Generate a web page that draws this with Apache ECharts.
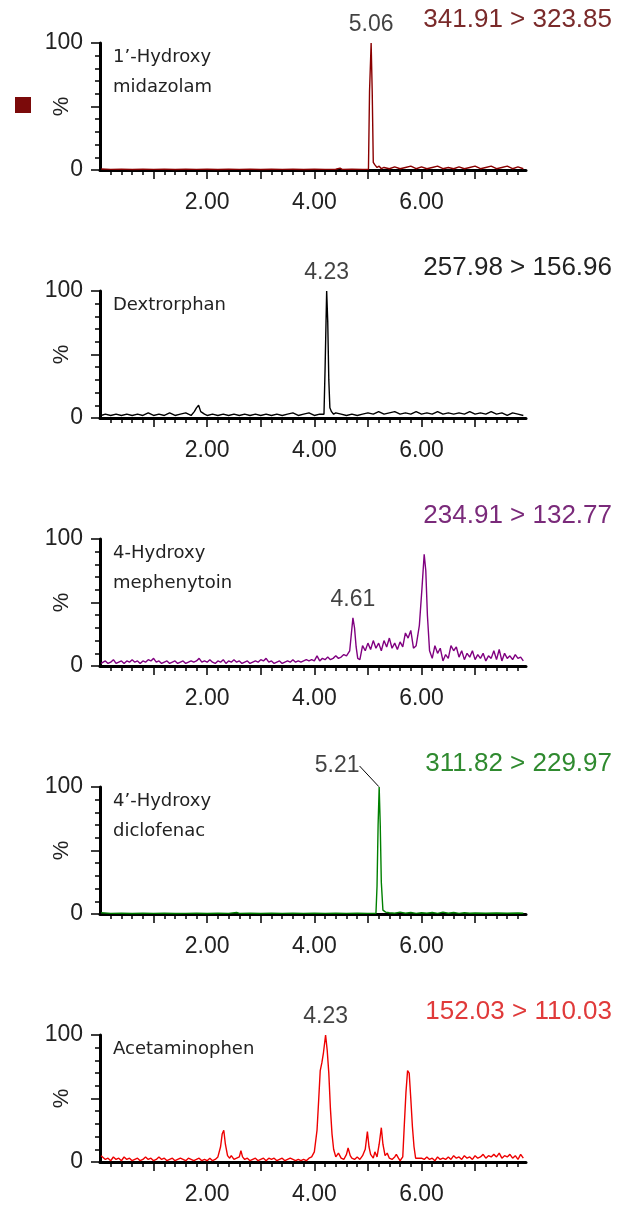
<!DOCTYPE html>
<html>
<head>
<meta charset="utf-8">
<script src="https://cdn.jsdelivr.net/npm/echarts@6/dist/echarts.min.js"></script>
<style>
html,body{margin:0;padding:0;background:#fff;}
#chart{width:617px;height:1210px;}
</style>
</head>
<body>
<div id="chart"></div>
<script>
// ---- data ----
const transitions = ['341.91 > 323.85', '257.98 > 156.96', '234.91 > 132.77', '311.82 > 229.97', '152.03 > 110.03'];
const compounds = ['1’-Hydroxy\nmidazolam', 'Dextrorphan', '4-Hydroxy\nmephenytoin', '4’-Hydroxy\ndiclofenac', 'Acetaminophen'];
const peakLabels = ['5.06', '4.23', '4.61', '5.21', '4.23'];
const peakPoints = [[5.06, 100], [4.23, 100], [4.72, 38], [5.21, 100], [4.21, 100]];
const xTickLabels = [2, 4, 6];
const xMajorTicks = [1, 2, 3, 4, 5, 6, 7];
const xMinorTicks = [0.2,0.4,0.6,0.8,1.2,1.4,1.6,1.8,2.2,2.4,2.6,2.8,3.2,3.4,3.6,3.8,4.2,4.4,4.6,4.8,5.2,5.4,5.6,5.8,6.2,6.4,6.6,6.8,7.2,7.4,7.6,7.8];

const midazolam = [
[0.02,0.8],[0.2,0.5],[0.4,0.7],[0.6,0.4],[0.8,0.6],[1.0,0.5],[1.2,0.7],[1.4,0.4],[1.6,0.6],[1.8,0.5],
[2.0,0.6],[2.2,0.4],[2.4,0.6],[2.6,0.5],[2.8,0.7],[3.0,0.4],[3.2,0.6],[3.4,0.5],[3.6,0.6],[3.8,0.4],
[4.0,0.6],[4.2,0.5],[4.4,0.6],[4.48,1.5],[4.52,0.5],[4.7,0.6],[4.9,0.5],[5.01,0.6],[5.03,62],[5.06,100],
[5.08,62],[5.10,6],[5.13,4],[5.17,2],[5.21,3],[5.25,1],[5.3,2],[5.4,1],[5.5,2.5],[5.6,1],[5.7,2],[5.8,3],
[5.9,1],[6.0,2.5],[6.1,1],[6.2,2],[6.3,3],[6.4,1],[6.5,2],[6.6,1],[6.7,2.5],[6.8,1],[6.9,2],[7.0,3],
[7.1,1],[7.2,2],[7.3,3],[7.4,1],[7.5,2],[7.6,3],[7.7,1],[7.8,2.5],[7.9,1]
];

const dextrorphan = [
[0.02,2],[0.1,3],[0.2,2],[0.3,3],[0.4,2],[0.5,3],[0.6,2],[0.7,3],[0.8,2],[0.9,4],[1.0,2],[1.1,3],[1.2,2],
[1.3,4],[1.4,2],[1.5,3],[1.6,4],[1.7,2],[1.76,5],[1.8,8],[1.84,10],[1.88,5],[1.95,3],[2.0,2],[2.1,3],
[2.2,2],[2.3,3],[2.4,2],[2.5,3],[2.6,2],[2.7,3],[2.8,2],[2.9,3],[3.0,2],[3.1,3],[3.2,2],[3.3,3],[3.4,2],
[3.5,3],[3.6,4],[3.7,2],[3.8,3],[3.9,4],[4.0,2],[4.1,3],[4.18,3],[4.20,38],[4.23,100],[4.25,76],[4.27,30],
[4.29,8],[4.32,5],[4.36,3],[4.4,4],[4.5,3],[4.6,2],[4.7,3],[4.8,2],[4.9,3],[5.0,4],[5.1,3],[5.2,5],[5.3,3],
[5.4,4],[5.5,5],[5.6,3],[5.7,4],[5.8,3],[5.9,5],[6.0,3],[6.1,4],[6.2,3],[6.3,5],[6.4,3],[6.5,4],[6.6,3],
[6.7,4],[6.8,3],[6.9,5],[7.0,3],[7.1,4],[7.2,3],[7.3,5],[7.4,3],[7.5,4],[7.6,2],[7.7,4],[7.8,3],[7.9,2]
];

const mephenytoin = [
[0.02,2],[0.05,2],[0.1,4],[0.15,2],[0.2,3],[0.25,5],[0.3,2],[0.35,3],[0.4,4],[0.45,2],[0.5,4],[0.55,3],[0.6,5],
[0.65,3],[0.7,4],[0.75,2],[0.8,4],[0.85,3],[0.9,5],[0.95,4],[1.0,6],[1.05,3],[1.1,4],[1.15,2],[1.2,3],
[1.25,4],[1.3,2],[1.35,3],[1.4,4],[1.45,2],[1.5,3],[1.55,4],[1.6,2],[1.65,3],[1.7,4],[1.75,3],[1.8,4],
[1.85,6],[1.9,3],[1.95,4],[2.0,3],[2.05,5],[2.1,3],[2.15,2],[2.2,4],[2.25,3],[2.3,5],[2.35,2],[2.4,4],
[2.45,3],[2.5,5],[2.55,3],[2.6,4],[2.65,2],[2.7,3],[2.75,4],[2.8,2],[2.85,3],[2.9,4],[2.95,3],[3.0,5],
[3.05,4],[3.1,6],[3.15,3],[3.2,4],[3.25,2],[3.3,3],[3.35,4],[3.4,2],[3.45,3],[3.5,4],[3.55,3],[3.6,5],
[3.65,3],[3.7,4],[3.75,3],[3.8,4],[3.85,5],[3.9,4],[3.95,5],[4.0,4],[4.05,8],[4.1,4],[4.15,6],[4.2,5],
[4.25,7],[4.3,5],[4.35,6],[4.4,8],[4.45,6],[4.5,7],[4.55,9],[4.6,8],[4.66,12],[4.69,25],[4.72,38],[4.75,30],
[4.78,15],[4.81,6],[4.85,5],[4.9,16],[4.95,12],[5.0,18],[5.05,13],[5.1,20],[5.15,14],[5.2,18],[5.25,12],
[5.3,20],[5.35,15],[5.4,22],[5.45,14],[5.5,18],[5.55,13],[5.6,19],[5.65,15],[5.7,26],[5.75,22],[5.8,28],
[5.85,14],[5.9,16],[5.96,32],[6.01,62],[6.05,88],[6.08,75],[6.11,40],[6.15,12],[6.2,6],[6.25,16],[6.3,10],
[6.35,14],[6.4,4],[6.45,9],[6.5,6],[6.55,16],[6.6,12],[6.65,15],[6.7,7],[6.75,12],[6.8,5],[6.85,10],
[6.9,7],[6.95,12],[7.0,5],[7.05,9],[7.1,6],[7.15,10],[7.2,4],[7.25,8],[7.3,6],[7.35,12],[7.4,5],[7.45,13],
[7.5,4],[7.55,10],[7.6,6],[7.65,8],[7.7,5],[7.75,9],[7.8,6],[7.85,7],[7.9,4]
];

const diclofenac = [
[0.02,1],[0.2,0.5],[0.4,0.6],[0.6,0.4],[0.8,0.6],[1.0,0.5],[1.2,0.6],[1.4,0.4],[1.6,0.5],[1.8,0.6],
[2.0,0.4],[2.2,0.6],[2.4,0.5],[2.55,1.2],[2.6,0.5],[2.8,0.6],[3.0,0.4],[3.2,0.7],[3.4,0.5],[3.6,0.7],
[3.8,0.5],[4.0,0.7],[4.2,0.5],[4.4,0.6],[4.6,0.5],[4.8,0.6],[5.0,0.5],[5.15,0.6],[5.17,22],[5.19,70],
[5.21,100],[5.23,70],[5.25,25],[5.28,3],[5.33,1.5],[5.4,1],[5.5,0.6],[5.6,1.5],[5.7,0.6],[5.8,1.2],
[5.9,0.5],[6.0,1],[6.1,0.6],[6.2,1.2],[6.3,0.5],[6.4,1.5],[6.5,0.6],[6.6,1.2],[6.7,0.5],[6.8,1],
[6.9,0.6],[7.0,0.8],[7.2,0.6],[7.4,0.8],[7.6,0.6],[7.8,0.8],[7.9,0.6]
];

const acetaminophen = [
[0.02,5],[0.05,4],[0.1,2],[0.15,3],[0.2,1],[0.25,4],[0.3,2],[0.35,3],[0.4,1],[0.45,4],[0.5,2],[0.55,3],[0.6,1],
[0.65,2],[0.7,3],[0.75,1],[0.8,2],[0.85,4],[0.9,2],[0.95,3],[1.0,1],[1.05,2],[1.1,4],[1.15,2],[1.2,3],
[1.25,1],[1.3,2],[1.35,3],[1.4,1],[1.45,2],[1.5,3],[1.55,2],[1.6,1],[1.65,3],[1.7,2],[1.75,1],[1.8,2],
[1.85,3],[1.9,1],[1.95,2],[2.0,1],[2.05,3],[2.1,1],[2.15,2],[2.2,4],[2.25,12],[2.28,22],[2.31,25],[2.34,14],
[2.38,5],[2.42,3],[2.45,5],[2.5,2],[2.55,3],[2.6,4],[2.63,9],[2.66,4],[2.7,2],[2.75,3],[2.8,1],[2.85,2],
[2.9,3],[2.95,1],[3.0,2],[3.05,3],[3.1,1],[3.15,3],[3.2,2],[3.25,3],[3.3,1],[3.35,2],[3.4,3],[3.45,1],
[3.5,2],[3.55,3],[3.6,2],[3.65,1],[3.7,2],[3.75,1],[3.8,2],[3.85,1],[3.9,3],[3.95,4],[4.0,8],[4.05,25],
[4.08,48],[4.11,72],[4.14,78],[4.17,86],[4.21,100],[4.24,88],[4.27,70],[4.3,42],[4.33,22],[4.36,10],[4.4,4],
[4.45,7],[4.5,3],[4.55,2],[4.6,6],[4.63,11],[4.67,5],[4.7,3],[4.75,2],[4.8,4],[4.85,2],[4.9,5],[4.95,10],
[4.99,24],[5.02,12],[5.05,6],[5.1,3],[5.13,8],[5.17,4],[5.21,14],[5.25,27],[5.28,14],[5.32,5],[5.36,7],
[5.4,3],[5.45,2],[5.5,4],[5.53,6],[5.57,3],[5.6,1],[5.65,4],[5.68,30],[5.71,55],[5.74,72],[5.77,70],
[5.8,50],[5.83,28],[5.86,12],[5.89,3],[5.92,4],[5.95,3],[6.0,3],[6.05,2],[6.1,4],[6.15,2],[6.2,3],[6.25,1],
[6.3,4],[6.35,2],[6.4,3],[6.45,2],[6.5,4],[6.55,2],[6.6,5],[6.65,3],[6.7,4],[6.75,2],[6.8,5],[6.85,3],
[6.9,4],[6.95,2],[7.0,5],[7.05,3],[7.1,4],[7.15,6],[7.2,3],[7.25,5],[7.3,4],[7.35,6],[7.4,4],[7.45,7],
[7.5,3],[7.55,5],[7.6,4],[7.65,6],[7.7,3],[7.75,5],[7.8,2],[7.85,6],[7.9,3]
];

const traces = [midazolam, dextrorphan, mephenytoin, diclofenac, acetaminophen];
const lineColors = ['#8a0000', '#000000', '#800080', '#008000', '#ee0000'];
const titleColors = ['#7a2a2a', '#222222', '#7a2a7a', '#2f8a2f', '#e03a3a'];

// ---- layout ----
const X_MAX = 7.95;
const GRID_LEFT = 100, GRID_W = 426, GRID_H = 127, GRID_TOP0 = 43, GRID_STEP = 248;
const NUM_FONT = 'Liberation Sans, Arial, sans-serif';
const NAME_FONT = 'DejaVu Sans, Verdana, sans-serif';

const grid = [], xAxis = [], yAxis = [], series = [], title = [];
for (let i = 0; i < 5; i++) {
  const top = GRID_TOP0 + GRID_STEP * i;
  grid.push({left: GRID_LEFT, top: top, width: GRID_W, height: GRID_H});
  xAxis.push({
    type: 'value', gridIndex: i, position: 'bottom', min: 0, max: X_MAX,
    axisLine: {show: true, onZero: false, lineStyle: {color: '#000', width: 3}},
    axisTick: {show: true, customValues: xMinorTicks, length: 5, lineStyle: {color: '#000', width: 1.5}},
    axisLabel: {show: false},
    splitLine: {show: false}
  });
  xAxis.push({
    type: 'value', gridIndex: i, position: 'bottom', min: 0, max: X_MAX,
    axisLine: {show: false, onZero: false},
    axisTick: {show: true, customValues: xMajorTicks, length: 9, lineStyle: {color: '#000', width: 1.5}},
    axisLabel: {show: true, customValues: xTickLabels, margin: 21, color: '#222', fontSize: 23, fontFamily: NUM_FONT,
      formatter: v => v.toFixed(2)},
    splitLine: {show: false}
  });
  yAxis.push({
    type: 'value', gridIndex: i, position: 'left', min: 0, max: 100, interval: 10,
    axisLine: {show: true, onZero: false, lineStyle: {color: '#000', width: 3}},
    axisTick: {show: true, length: 5, lineStyle: {color: '#000', width: 1.5}},
    axisLabel: {show: false},
    splitLine: {show: false}
  });
  yAxis.push({
    type: 'value', gridIndex: i, position: 'left', min: 0, max: 100, interval: 50,
    axisLine: {show: false, onZero: false},
    axisTick: {show: true, length: 9, lineStyle: {color: '#000', width: 1.5}},
    axisLabel: {show: true, margin: 17, color: '#222', fontSize: 23, fontFamily: NUM_FONT,
      formatter: v => (v === 50 ? '' : String(v))},
    name: '%', nameLocation: 'middle', nameGap: 27, nameRotate: 90, nameMoveOverlap: false,
    nameTextStyle: {color: '#222', fontSize: 22, fontFamily: NUM_FONT},
    splitLine: {show: false}
  });
  series.push({
    type: 'line', xAxisIndex: 2 * i, yAxisIndex: 2 * i,
    data: traces[i], showSymbol: false, symbol: 'none', smooth: false,
    lineStyle: {color: lineColors[i], width: 1.4}, z: 3
  });
  const sc = {
    type: 'scatter', xAxisIndex: 2 * i, yAxisIndex: 2 * i,
    data: [peakPoints[i]], symbol: 'circle', symbolSize: 1, itemStyle: {color: 'rgba(0,0,0,0)'},
    label: {show: true, position: 'top', distance: 6, formatter: peakLabels[i],
      color: '#111', fontSize: 23, fontFamily: NUM_FONT},
    z: 4, silent: true
  };
  if (i === 3) {
    sc.labelLayout = {dx: -42, dy: -3};
    sc.labelLine = {show: true, lineStyle: {color: '#000', width: 1}};
  }
  series.push(sc);
  title.push({
    text: transitions[i], right: 5, top: top - 38, padding: 0,
    textStyle: {color: titleColors[i], fontSize: 26, fontWeight: 'normal', fontFamily: NUM_FONT, lineHeight: 30}
  });
  title.push({
    text: compounds[i], left: 113, top: top - 1, padding: 0,
    textStyle: {color: '#222', fontSize: 18, fontWeight: 'normal', fontFamily: NAME_FONT, lineHeight: 30}
  });
}

const chart = echarts.init(document.getElementById('chart'), null, {renderer: 'canvas'});
chart.setOption({
  animation: false,
  backgroundColor: '#fff',
  grid, xAxis, yAxis, series, title,
  graphic: [{type: 'rect', left: 15, top: 97, shape: {width: 16, height: 16}, style: {fill: '#7b0a0a'}}]
});
</script>
</body>
</html>
